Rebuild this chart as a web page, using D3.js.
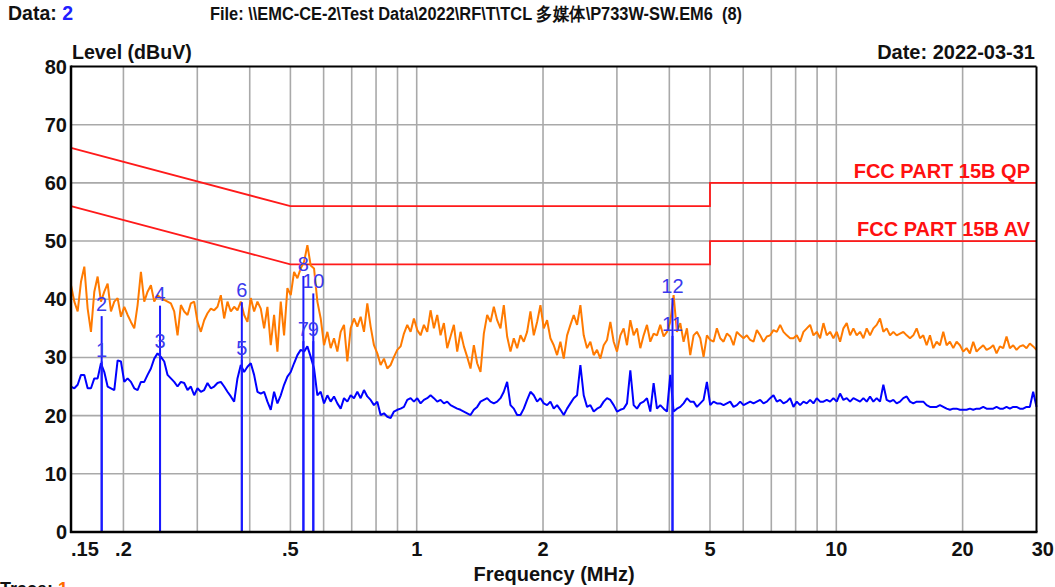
<!DOCTYPE html>
<html><head><meta charset="utf-8">
<script src="https://cdn.jsdelivr.net/npm/d3@7"></script>
<style>
html,body{margin:0;padding:0;background:#fff;overflow:hidden}
svg text{font-family:"Liberation Sans",Arial,sans-serif}
</style></head>
<body><svg id="chart" width="1055" height="587"></svg>
<script>
// ---- data ----
const sweepStartMHz = 0.15, sweepStopMHz = 30;
const xTickValues = [0.15, 0.2, 0.5, 1, 2, 5, 10, 20, 30];
const xTickLabels = [".15", ".2", ".5", "1", "2", "5", "10", "20", "30"];
const xGridValues = [0.2,0.3,0.4,0.5,0.6,0.7,0.8,0.9,1,2,3,4,5,6,7,8,9,10,20];
const yTickValues = [0,10,20,30,40,50,60,70,80];

const qpLimitFreqs = [0.15, 0.5, 5, 5, 30];
const qpLimitLevels = [66, 56, 56, 60, 60];
const avLimitFreqs = [0.15, 0.5, 5, 5, 30];
const avLimitLevels = [56, 46, 46, 50, 50];

const peakLevels = [
42.4,39.6,37.9,43.0,45.6,38.4,34.4,41.3,43.9,39.6,
41.3,42.7,37.9,39.6,40.2,37.0,38.7,37.3,36.1,35.0,
39.0,44.7,39.6,41.3,42.4,39.6,40.7,40.2,39.9,39.6,
39.3,37.9,33.8,39.0,37.9,37.3,39.3,39.6,36.1,34.4,
36.4,37.6,38.4,38.1,38.7,40.7,36.7,39.6,37.9,38.7,
38.1,39.6,37.3,36.1,40.2,37.9,39.6,38.4,35.0,38.7,
32.1,37.3,31.0,39.6,33.8,41.9,40.7,44.7,43.6,45.3,
46.4,49.3,45.8,
45.3,39.6,36.7,32.1,34.4,31.6,33.3,31.0,34.4,35.6,
29.3,35.0,36.7,35.3,37.0,34.4,39.3,35.3,32.1,30.7,
28.7,29.8,28.1,28.7,30.1,31.3,31.9,34.1,35.6,34.4,
36.7,34.7,33.8,35.6,34.4,38.1,35.0,37.3,33.8,35.9,
31.6,33.6,35.6,31.0,34.4,31.9,30.1,28.1,32.1,29.0,
27.5,34.1,37.3,36.1,38.7,36.4,35.0,39.0,33.6,31.0,
33.3,31.6,33.8,32.7,34.4,37.9,33.8,36.1,39.0,35.0,
36.4,33.3,
32.1,30.4,32.7,29.8,33.8,35.6,37.3,35.6,39.0,33.8,
31.6,32.7,30.4,31.3,29.8,32.1,33.0,36.1,32.7,31.0,
33.8,35.0,32.1,36.4,33.8,35.0,31.6,33.8,35.6,32.7,
34.1,33.8,35.6,33.6,34.4,36.1,40.7,34.4,35.9,32.7,
35.0,30.4,33.8,34.4,33.3,30.1,33.8,33.0,32.7,35.0,
33.3,32.7,34.1,33.6,32.1,34.4,33.8,33.3,33.8,33.0,
32.7,34.7,33.8,32.7,33.6,33.8,34.7,34.4,35.6,34.4,
33.8,33.3,
33.3,33.8,32.7,34.4,35.0,35.6,33.8,34.4,33.3,35.9,
33.8,34.4,33.3,34.4,32.7,35.0,35.9,33.8,35.0,33.8,
34.4,33.3,35.0,33.8,35.0,35.6,36.7,34.4,35.0,33.8,
34.4,33.8,34.1,34.4,33.8,33.3,33.8,35.0,33.3,33.8,
32.1,33.8,31.6,32.7,32.1,34.4,32.1,32.7,31.6,32.7,
32.1,31.0,31.6,30.7,32.7,31.0,31.6,32.1,31.3,31.6,
32.1,30.7,31.9,31.6,33.6,31.6,32.1,31.3,31.9,32.1,
31.6,32.4,31.9,31.3
];

const avgLevels = [
25.0,24.7,25.3,27.0,27.0,24.7,24.7,26.4,26.4,29.0,
27.5,25.0,24.7,24.4,29.5,29.3,25.8,26.4,25.8,24.7,
24.4,25.8,25.8,27.0,28.1,29.8,30.7,30.1,29.3,27.0,
26.4,25.8,25.0,25.8,25.6,24.4,25.0,23.5,24.7,24.1,
24.4,25.6,24.7,25.0,25.6,25.8,25.0,24.1,23.3,22.4,
26.4,28.7,27.5,28.4,29.0,27.0,24.1,23.8,24.1,22.4,
21.0,24.1,22.1,23.5,25.3,26.7,27.5,29.0,30.4,31.3,
31.0,31.9,30.1,
28.1,23.5,24.1,22.1,23.5,22.4,23.3,22.1,21.2,23.0,
22.4,23.5,23.0,24.1,23.0,24.4,23.3,22.7,21.8,22.4,
20.1,20.4,19.8,19.6,20.7,21.0,21.2,21.5,22.7,23.0,
22.4,23.0,22.1,22.7,23.0,23.5,23.0,22.4,22.7,22.1,
22.4,21.8,21.5,21.2,21.0,20.7,20.4,20.1,21.0,21.5,
22.4,22.7,23.0,22.4,22.1,22.4,23.0,24.1,25.8,21.8,
21.2,20.1,20.1,21.2,22.7,24.1,23.5,22.4,23.0,22.1,
21.8,22.4,
21.2,21.8,21.0,20.1,21.2,22.1,23.0,23.5,28.7,23.5,
21.5,21.8,20.7,21.2,21.5,22.4,23.0,22.7,21.8,20.7,
21.0,21.2,22.1,27.8,21.8,21.2,22.1,22.4,23.0,20.7,
25.6,21.2,21.8,21.2,20.7,27.0,20.7,21.2,21.5,22.1,
23.0,22.4,22.4,21.5,22.1,22.7,25.8,21.8,22.4,22.1,
22.1,21.8,22.1,22.4,21.5,21.8,22.4,21.8,22.1,22.4,
22.1,22.4,22.7,22.1,22.4,23.0,23.5,22.4,22.7,22.1,
22.4,23.0,
21.5,22.4,21.8,22.4,22.1,22.7,22.1,23.0,22.4,22.4,
22.7,22.4,23.0,22.4,23.8,22.7,23.0,22.4,23.0,22.7,
22.4,23.0,22.4,23.3,22.4,23.0,22.4,25.3,22.7,22.4,
22.7,22.1,22.4,23.0,23.3,22.4,22.1,22.4,22.4,22.4,
21.8,21.5,21.5,21.5,21.8,21.5,21.2,21.0,21.2,21.2,
21.0,21.0,21.0,21.2,21.0,21.2,21.2,21.5,21.2,21.2,
21.2,21.5,21.2,21.2,21.5,21.2,21.5,21.5,21.2,21.2,
21.5,21.5,24.1,21.5
];

const markerIds = ["1","2","3","4","5","6","7","8","9","10","11","12"];
const markerFreqs = [0.1775,0.1775,0.2445,0.2445,0.383,0.383,0.537,0.537,0.567,0.567,4.07,4.07];
const markerLevels = [29.3,37.1,30.8,38.9,29.6,39.5,32.8,44.0,32.8,41.0,33.7,40.2];

// ---- drawing ----
const svg = d3.select("#chart");
const x = d3.scaleLog().domain([sweepStartMHz, sweepStopMHz]).range([71, 1036.5]);
const y = d3.scaleLinear().domain([0, 80]).range([532, 66.5]);
const sweepFreq = (i, n) => sweepStartMHz * Math.pow(sweepStopMHz / sweepStartMHz, i / (n - 1));

// grid
const g = svg.append("g");
g.selectAll(".vg").data(xGridValues).enter().append("line")
  .attr("x1", d => x(d)).attr("x2", d => x(d)).attr("y1", y(80)).attr("y2", y(0))
  .attr("stroke", "#a9a9a9").attr("stroke-width", 1.6);
g.selectAll(".hg").data(yTickValues.filter(v => v > 0 && v < 80)).enter().append("line")
  .attr("x1", x(sweepStartMHz)).attr("x2", x(sweepStopMHz)).attr("y1", d => y(d)).attr("y2", d => y(d))
  .attr("stroke", "#a9a9a9").attr("stroke-width", 1.6);

// limit lines
const limLine = d3.line().x(d => x(d[0])).y(d => y(d[1]));
[[qpLimitFreqs, qpLimitLevels], [avLimitFreqs, avLimitLevels]].forEach(([fs, ls]) => {
  svg.append("path").datum(fs.map((f, i) => [f, ls[i]]))
    .attr("d", limLine).attr("fill", "none").attr("stroke", "#ff1a1a").attr("stroke-width", 1.8);
});
svg.append("text").attr("x", 1030).attr("y", 178).attr("text-anchor", "end")
  .attr("font-size", 20).attr("font-weight", "bold").attr("fill", "#ff1010").text("FCC PART 15B QP");
svg.append("text").attr("x", 1030).attr("y", 236).attr("text-anchor", "end")
  .attr("font-size", 20).attr("font-weight", "bold").attr("fill", "#ff1010").text("FCC PART 15B AV");

// traces
const traceLine = d3.line().x(d => x(d[0])).y(d => y(d[1]));
const peakPts = peakLevels.map((v, i) => [sweepFreq(i, peakLevels.length), v]);
const avgPts = avgLevels.map((v, i) => [sweepFreq(i, avgLevels.length), v]);
svg.append("path").datum(peakPts).attr("d", traceLine).attr("fill", "none")
  .attr("stroke", "#ff7a00").attr("stroke-width", 2).attr("stroke-linejoin", "bevel");
svg.append("path").datum(avgPts).attr("d", traceLine).attr("fill", "none")
  .attr("stroke", "#0000ff").attr("stroke-width", 2).attr("stroke-linejoin", "bevel");

// markers
markerIds.forEach((id, i) => {
  svg.append("line").attr("x1", x(markerFreqs[i])).attr("x2", x(markerFreqs[i]))
    .attr("y1", y(0)).attr("y2", y(markerLevels[i]))
    .attr("stroke", "#1a1aff").attr("stroke-width", 2);
});
markerIds.forEach((id, i) => {
  svg.append("text").attr("x", x(markerFreqs[i])).attr("y", y(markerLevels[i]) - 5)
    .attr("text-anchor", "middle").attr("font-size", 20).attr("fill", "#3a3aee").text(id);
});

// frame / axes
svg.append("line").attr("x1", x(sweepStartMHz)).attr("x2", x(sweepStopMHz)).attr("y1", y(80)).attr("y2", y(80))
  .attr("stroke", "#000").attr("stroke-width", 2);
svg.append("line").attr("x1", x(sweepStopMHz)).attr("x2", x(sweepStopMHz)).attr("y1", y(80)).attr("y2", y(0))
  .attr("stroke", "#000").attr("stroke-width", 2);
svg.append("line").attr("x1", x(sweepStartMHz)).attr("x2", x(sweepStartMHz)).attr("y1", y(80) - 1).attr("y2", y(0) + 1)
  .attr("stroke", "#000").attr("stroke-width", 2.5);
svg.append("line").attr("x1", x(sweepStartMHz) - 1).attr("x2", x(sweepStopMHz) + 1).attr("y1", y(0)).attr("y2", y(0))
  .attr("stroke", "#000").attr("stroke-width", 2.5);

// y tick labels
svg.selectAll(".yl").data(yTickValues).enter().append("text")
  .attr("x", 67).attr("y", d => y(d) + 7).attr("text-anchor", "end")
  .attr("font-size", 20).attr("font-weight", "bold").attr("fill", "#111").text(d => d);

// x tick labels
svg.selectAll(".xl").data(xTickValues).enter().append("text")
  .attr("x", (d, i) => i === 0 ? x(d) : (i === xTickValues.length - 1 ? 1054 : x(d)))
  .attr("y", 556)
  .attr("text-anchor", (d, i) => i === 0 ? "start" : (i === xTickValues.length - 1 ? "end" : "middle"))
  .attr("font-size", 20).attr("font-weight", "bold").attr("fill", "#111")
  .text((d, i) => xTickLabels[i]);

// titles
const t1 = svg.append("text").attr("x", 8).attr("y", 20).attr("font-size", 19.5).attr("font-weight", "bold").attr("fill", "#111");
t1.append("tspan").text("Data: ");
t1.append("tspan").attr("fill", "#2020ff").text("2");
svg.append("text").attr("x", 210).attr("y", 20).attr("font-size", 18).attr("font-weight", "bold").attr("fill", "#111")
  .attr("textLength", 532).attr("lengthAdjust", "spacingAndGlyphs")
  .style("white-space", "pre")
  .text("File: \\\\EMC-CE-2\\Test Data\\2022\\RF\\T\\TCL 多媒体\\P733W-SW.EM6  (8)");
svg.append("text").attr("x", 72).attr("y", 59).attr("font-size", 19.6).attr("font-weight", "bold").attr("fill", "#111")
  .text("Level (dBuV)");
svg.append("text").attr("x", 1035).attr("y", 59).attr("text-anchor", "end").attr("font-size", 20).attr("font-weight", "bold").attr("fill", "#111")
  .text("Date: 2022-03-31");
svg.append("text").attr("x", 554).attr("y", 581).attr("text-anchor", "middle").attr("font-size", 20).attr("font-weight", "bold").attr("fill", "#111")
  .text("Frequency (MHz)");
const t2 = svg.append("text").attr("x", 0).attr("y", 595).attr("font-size", 18).attr("font-weight", "bold").attr("fill", "#111");
t2.append("tspan").text("Trace: ");
t2.append("tspan").attr("fill", "#ff6a00").text("1");
</script></body></html>
